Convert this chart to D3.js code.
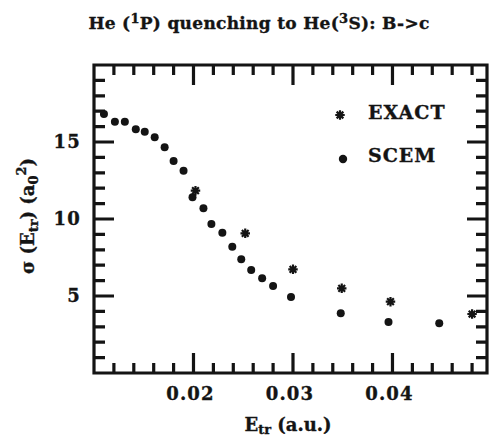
<!DOCTYPE html>
<html>
<head>
<meta charset="utf-8">
<script src="https://cdn.jsdelivr.net/npm/d3@7"></script>
<style>
  html, body { margin: 0; padding: 0; background: #fff; }
  svg text { font-family: "DejaVu Serif", "Liberation Serif", serif; font-weight: bold; fill: #141414; stroke: #141414; stroke-width: 0.35px; }
</style>
</head>
<body>
<svg id="chart" width="492" height="439"></svg>
<script>
// Cross section for He(1P) -> He(3S) quenching, B->c transition
const scemE     = [0.0110, 0.0121, 0.0131, 0.0142, 0.0151, 0.0161, 0.0171, 0.0180, 0.0190, 0.0199, 0.0210,
                   0.0218, 0.0229, 0.0239, 0.0248, 0.0258, 0.0269, 0.0280, 0.0298, 0.0348, 0.0396, 0.0447];
const scemSigma = [16.82, 16.32, 16.32, 15.82, 15.67, 15.31, 14.66, 13.77, 13.14, 11.41, 10.69,
                   9.68, 9.11, 8.20, 7.38, 6.69, 6.15, 5.65, 4.94, 3.88, 3.31, 3.23];
const exactE     = [0.0202, 0.0252, 0.0300, 0.0349, 0.0398, 0.0480];
const exactSigma = [11.84, 9.07, 6.73, 5.50, 4.63, 3.83];

const xTicks = [0.02, 0.03, 0.04];
const yTicks = [5, 10, 15];
const xMinorTicks = [0.012, 0.014, 0.016, 0.018, 0.022, 0.024, 0.026, 0.028,
                     0.032, 0.034, 0.036, 0.038, 0.042, 0.044, 0.046, 0.048];
const yMinorTicks = [1, 2, 3, 4, 6, 7, 8, 9, 11, 12, 13, 14, 16, 17, 18, 19];
const legendLabels = ["EXACT", "SCEM"];

const ink = "#141414";
const svg = d3.select("#chart");

const x = d3.scaleLinear().domain([0.01, 0.0495]).range([94, 487]);
const y = d3.scaleLinear().domain([0, 20]).range([373, 65]);

const plotL = x.range()[0], plotR = x.range()[1];
const plotB = y.range()[0], plotT = y.range()[1];

// Eight-armed asterisk marker
const asterisk = {
  draw(ctx, size) {
    const r = Math.sqrt(size) / 2;
    for (let k = 0; k < 4; k++) {
      const a = k * Math.PI / 4;
      ctx.moveTo(-r * Math.cos(a), -r * Math.sin(a));
      ctx.lineTo(r * Math.cos(a), r * Math.sin(a));
    }
  }
};

// Frame plus inward ticks on all four sides, in one stroked path
const frame = d3.path();
frame.moveTo(plotL, plotT);
frame.lineTo(plotR, plotT);
frame.lineTo(plotR, plotB);
frame.lineTo(plotL, plotB);
frame.closePath();
const xTickData = xMinorTicks.map(v => ({ v, len: 10 })).concat(xTicks.map(v => ({ v, len: 20 })));
const yTickData = yMinorTicks.map(v => ({ v, len: 11 })).concat(yTicks.map(v => ({ v, len: 20 })));
xTickData.forEach(d => {
  const px = x(d.v);
  frame.moveTo(px, plotB); frame.lineTo(px, plotB - d.len);
  frame.moveTo(px, plotT); frame.lineTo(px, plotT + d.len);
});
yTickData.forEach(d => {
  const py = y(d.v);
  frame.moveTo(plotL, py); frame.lineTo(plotL + d.len, py);
  frame.moveTo(plotR, py); frame.lineTo(plotR - d.len, py);
});
svg.append("path")
  .attr("d", frame.toString())
  .style("fill", "none")
  .style("stroke", ink)
  .style("stroke-width", "3.2px");

// Tick labels
svg.append("g").selectAll("text").data(xTicks).join("text")
  .attr("x", d => x(d) - 3).attr("y", 400)
  .attr("text-anchor", "middle")
  .attr("font-size", 18).attr("letter-spacing", 1.2)
  .text(d => d3.format(".2f")(d));

svg.append("g").selectAll("text").data(yTicks).join("text")
  .attr("x", 81).attr("y", d => y(d) + 6)
  .attr("text-anchor", "end")
  .attr("font-size", 18).attr("letter-spacing", 1.2)
  .text(d => d);

// Data points
svg.append("g").selectAll("circle").data(scemE).join("circle")
  .attr("cx", d => x(d))
  .attr("cy", (d, i) => y(scemSigma[i]))
  .attr("r", 4).attr("fill", ink);

const starPath = d3.symbol().type(asterisk).size(90);
svg.append("g").selectAll("path").data(exactE).join("path")
  .attr("transform", (d, i) => `translate(${x(d)},${y(exactSigma[i])})`)
  .attr("d", starPath)
  .style("fill", "none").attr("stroke", ink).attr("stroke-width", 2.2);

// Legend
const legend = svg.append("g");
legend.append("path")
  .attr("transform", "translate(340,115)")
  .attr("d", starPath)
  .style("fill", "none").attr("stroke", ink).attr("stroke-width", 2.2);
legend.append("circle").attr("cx", 343).attr("cy", 159).attr("r", 4.2).attr("fill", ink);
legend.selectAll("text").data(legendLabels).join("text")
  .attr("x", 368).attr("y", (d, i) => 119 + i * 43)
  .attr("font-size", 19).attr("letter-spacing", 1)
  .text(d => d);

// Title
const title = svg.append("text")
  .attr("x", 259).attr("y", 29)
  .attr("text-anchor", "middle")
  .attr("font-size", 17).attr("letter-spacing", 0.3);
title.append("tspan").text("He (");
title.append("tspan").attr("dy", -6).attr("font-size", 13).text("1");
title.append("tspan").attr("dy", 6).text("P) quenching to He(");
title.append("tspan").attr("dy", -6).attr("font-size", 13).text("3");
title.append("tspan").attr("dy", 6).text("S): B->c");

// X axis label
const xl = svg.append("text")
  .attr("x", 288).attr("y", 431)
  .attr("text-anchor", "middle")
  .attr("font-size", 18);
xl.append("tspan").text("E");
xl.append("tspan").attr("dy", 3).attr("font-size", 13).text("tr");
xl.append("tspan").attr("dy", -3).text(" (a.u.)");

// Y axis label
const yl = svg.append("text")
  .attr("transform", "translate(34,216) rotate(-90)")
  .attr("text-anchor", "middle")
  .attr("font-size", 18);
yl.append("tspan").text("σ (E");
yl.append("tspan").attr("dy", 4).attr("font-size", 13).text("tr");
yl.append("tspan").attr("dy", -4).text(") (a");
yl.append("tspan").attr("dy", 4).attr("font-size", 13).text("0");
yl.append("tspan").attr("dy", -12).attr("font-size", 13).text("2");
yl.append("tspan").attr("dy", 8).text(")");
</script>
</body>
</html>
